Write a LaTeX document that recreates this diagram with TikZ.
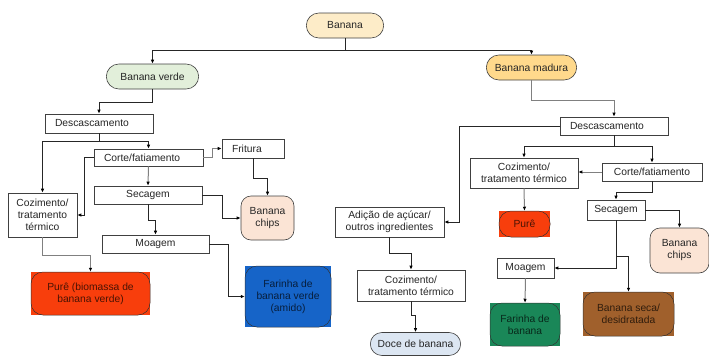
\documentclass[tikz,border=0pt]{standalone}
\usepackage{fontspec}
\setmainfont{Liberation Sans}
\usetikzlibrary{shapes.misc,arrows.meta}

\definecolor{banana fill}{RGB}{253,236,200}
\definecolor{verde fill}{RGB}{226,239,218}
\definecolor{madura fill}{RGB}{255,217,140}
\definecolor{chips fill}{RGB}{251,228,213}
\definecolor{doce fill}{RGB}{220,230,242}
\definecolor{pure red}{RGB}{248,62,12}
\definecolor{farinha blue}{RGB}{22,100,200}
\definecolor{farinha green}{RGB}{26,135,88}
\definecolor{seca brown}{RGB}{160,96,44}

\tikzset{box/.style={draw=black!75, fill=white, line width=0.6pt, inner sep=2pt,
                     align=center, text=black!85},
    lbox/.style={box, align=left, inner xsep=10pt},
    pill/.style={rounded rectangle, draw=black!75, line width=0.6pt, fill=#1,
                 minimum height=25pt, text=black!85},
    chips/.style={draw=black!75, line width=0.6pt, fill=chips fill, rounded corners=10pt,
                  align=center, text=black!85},
    tile/.style={draw=black!80, line width=0.5pt, fill=#1, rounded corners=12pt,
                 align=center, text=#1!30!black},
    link/.style={draw=black!85, line width=1pt, -{Latex[length=4pt,width=3.5pt,black]}},
    linkg/.style={link, draw=black!50}}

% name, position, width, height, colour, text
\newcommand{\tilenode}[6]{%
  \fill[#5] (#2) ++(-#3/2,-#4/2) rectangle ++(#3,#4);
  \node[tile=#5, minimum width=#3pt, minimum height=#4pt] (#1) at (#2) {#6};}

\begin{document}
\begin{tikzpicture}[x=1pt, y=-1pt, font=\fontsize{10.3}{12}\selectfont]
  \useasboundingbox (0,0) rectangle (709,356);

  % top
  \node[pill=banana fill, minimum width=84pt] (banana) at (345,25.5) {Banana};
  \node[pill=verde fill, minimum width=99pt] (verde) at (152.5,76.5) {Banana verde};
  \node[pill=madura fill, minimum width=97pt] (madura) at (531.5,67.5) {Banana madura};

  % banana verde
  \node[lbox, text width=88pt, minimum height=19pt] (descL) at (99,123.5) {Descascamento};
  \node[lbox, text width=89pt, minimum height=17pt] (corteL) at (148.5,157.5) {Corte/fatiamento};
  \node[lbox, text width=42pt, minimum height=19pt] (fritura) at (253,148.5) {Fritura};
  \node[box, minimum width=69pt, minimum height=44pt] (cozL) at (42.5,215) {Cozimento/\\tratamento\\térmico};
  \node[box, minimum width=108pt, minimum height=18pt] (secL) at (148,195) {Secagem};
  \node[box, minimum width=107pt, minimum height=18pt] (moaL) at (155.5,244) {Moagem};
  \node[chips, minimum width=53pt, minimum height=44pt] (chipsL) at (267.5,218) {Banana\\chips};
  \tilenode{pureL}{90.5,293.5}{119}{43}{pure red}{Purê (biomassa de\\banana verde)}
  \tilenode{farL}{288,296.5}{86}{61}{farinha blue}{Farinha de\\banana verde\\(amido)}

  % banana madura
  \node[lbox, text width=88pt, minimum height=18pt] (descR) at (614,126) {Descascamento};
  \node[box, minimum width=108pt, minimum height=30pt] (cozR) at (524,173) {Cozimento/\\tratamento térmico};
  \node[box, minimum width=100pt, minimum height=18pt] (corteR) at (652,172) {Corte/fatiamento};
  \node[box, minimum width=58pt, minimum height=20pt] (secR) at (616,210) {Secagem};
  \node[box, minimum width=57pt, minimum height=20pt] (moaR) at (525.5,268) {Moagem};
  \node[box, minimum width=109pt, minimum height=30pt] (adicao) at (389.5,222) {Adição de açúcar/\\outros ingredientes};
  \node[box, minimum width=108pt, minimum height=31pt] (cozB) at (411,285.5) {Cozimento/\\tratamento térmico};
  \node[chips, minimum width=59pt, minimum height=45pt] (chipsR) at (679.5,250.5) {Banana\\chips};
  \node[pill=doce fill, minimum width=97pt, minimum height=23pt] (doce) at (415.5,344) {Doce de banana};
  \tilenode{pureR}{524.5,224}{51}{26}{pure red}{Purê}
  \tilenode{farR}{525,324.5}{70}{43}{farinha green}{Farinha de\\banana}
  \tilenode{seca}{628.5,314}{91}{44}{seca brown}{Banana seca/\\desidratada}

  % connectors, left
  \draw[link] (banana.south) -- ++(0,12) -| (verde.north);
  \draw[link] (banana.south) -- ++(0,12) -| (madura.north);
  \draw[link] (verde.south) -- ++(0,13) -| (descL.north);
  \draw[link] (descL.south) -- ++(0,8) -| (corteL.north);
  \draw[link] (descL.south) -- ++(0,8) -| (cozL.north);
  \draw[linkg] (corteL.east) -- ++(9,0) |- (fritura.west);
  \draw[link] (corteL.west) -- ++(-9,0) |- (cozL.east);
  \draw[linkg] (corteL.south) -- (secL.north);
  \draw[link] (fritura.south) -- ++(0,20) -| (chipsL.north);
  \draw[link] (secL.east) -- ++(20,0) |- (chipsL.west);
  \draw[link] (secL.south) -- ++(0,16) -| (moaL.north);
  \draw[linkg] (cozL.south) -- ++(0,18) -| (pureL.north);
  \draw[link] (moaL.east) -- ++(19,0) |- (farL.west);

  % connectors, right
  \draw[linkg] (madura.south) -- ++(0,20) -| (descR.north);
  \draw[link] (descR.south) -- ++(0,11) -| (cozR.north);
  \draw[link] (descR.south) -- ++(0,11) -| (corteR.north);
  \draw[link] (descR.west) -- ++(-100,0) |- (adicao.east);
  \draw[linkg] (corteR.west) -- (corteR.west -| cozR.east);
  \draw[linkg] (cozR.south) -- (pureR.north);
  \draw[link] (corteR.south) -- ++(0,11) -| (secR.north);
  \draw[link] (secR.east) -| (chipsR.north);
  \draw[link] (secR.south) |- (moaR.east);
  \draw[link] (secR.south) ++(0,36) -| (seca.north);
  \draw[linkg] (moaR.south) -- (farR.north);
  \draw[link] (adicao.south) -- ++(0,16) -| (cozB.north);
  \draw[link] (cozB.south) -- ++(0,14) -| (doce.north);
\end{tikzpicture}
\end{document}
